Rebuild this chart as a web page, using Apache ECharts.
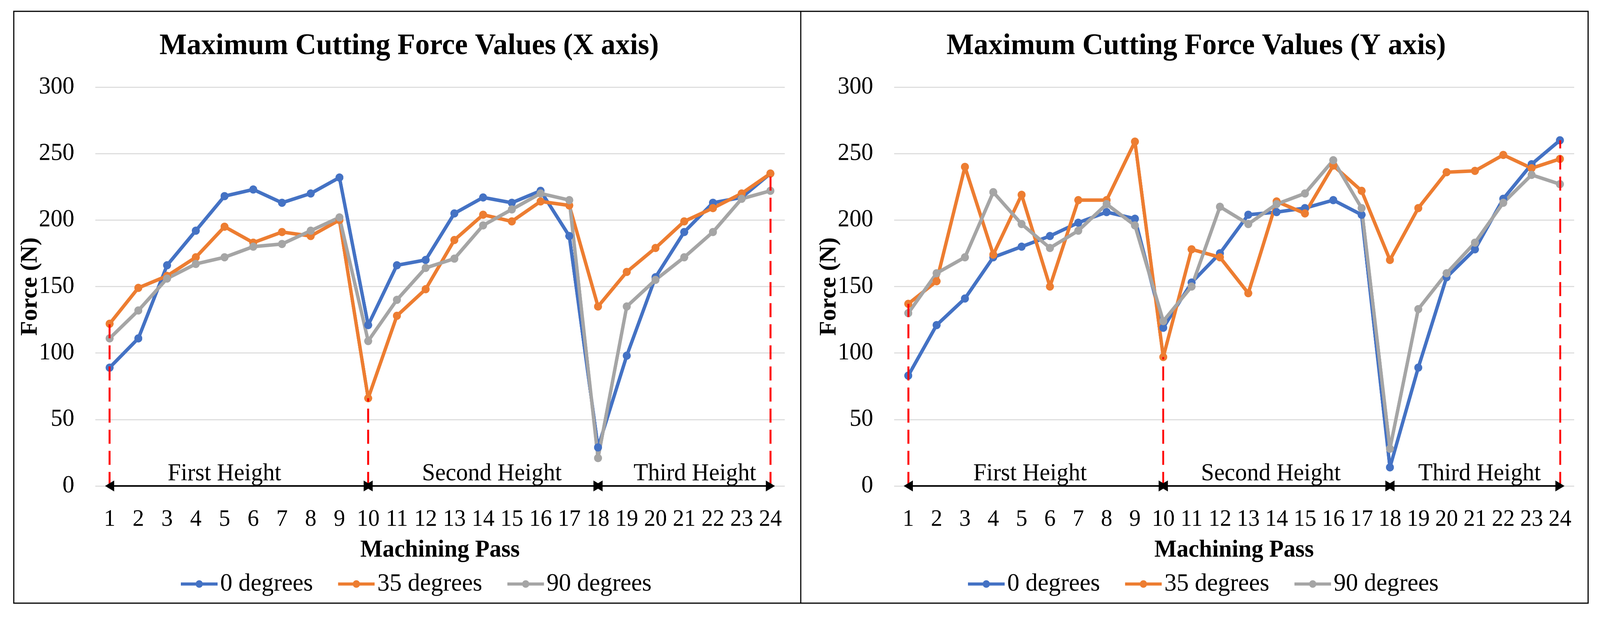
<!DOCTYPE html>
<html>
<head>
<meta charset="utf-8">
<script src="https://cdn.jsdelivr.net/npm/echarts@6/dist/echarts.min.js"></script>
<style>
html,body{margin:0;padding:0;background:#fff;overflow:hidden;}
#chart{width:4200px;height:1582px;transform-origin:0 0;}
</style>
</head>
<body>
<div id="chart"></div>
<script>
// ---------- data ----------
const passes = ['1','2','3','4','5','6','7','8','9','10','11','12','13','14','15','16','17','18','19','20','21','22','23','24'];
const seriesNames = ['0 degrees', '35 degrees', '90 degrees'];

// Maximum cutting force, X axis (N)
const fx0  = [89, 111, 166, 192, 218, 223, 213, 220, 232, 121, 166, 170, 205, 217, 213, 222, 188, 29, 98, 157, 191, 213, 217, 235];
const fx35 = [122, 149, 158, 172, 195, 183, 191, 188, 200, 66, 128, 148, 185, 204, 199, 214, 211, 135, 161, 179, 199, 209, 220, 235];
const fx90 = [111, 132, 156, 167, 172, 180, 182, 192, 202, 109, 140, 164, 171, 196, 208, 220, 215, 21, 135, 155, 172, 191, 216, 222];

// Maximum cutting force, Y axis (N)
const fy0  = [83, 121, 141, 172, 180, 188, 198, 206, 201, 119, 153, 175, 204, 206, 209, 215, 204, 14, 89, 157, 178, 216, 242, 260];
const fy35 = [137, 154, 240, 174, 219, 150, 215, 215, 259, 97, 178, 172, 145, 214, 205, 241, 222, 170, 209, 236, 237, 249, 239, 246];
const fy90 = [130, 160, 172, 221, 197, 179, 192, 212, 196, 124, 150, 210, 197, 212, 220, 245, 209, 28, 133, 160, 183, 213, 234, 227];

// height sections and divider lines
const dividerPasses = ['1', '10', '24'];
const dividerTopsX = [122, 66, 235];
const dividerTopsY = [137, 97, 260];
const sectionStarts = ['1', '10', '18'];
const sectionEnds = ['10', '18', '24'];
const sectionNames = ['First Height', 'Second Height', 'Third Height'];

const titles = ['Maximum Cutting Force Values (X axis)', 'Maximum Cutting Force Values (Y axis)'];
const yTicks = { min: 0, max: 300, interval: 50 };

// ---------- styles / layout ----------
const FONT = "'Liberation Serif', 'Times New Roman', serif";
const colors = ['#4472C4', '#ED7D31', '#A5A5A5'];
// horizontal nudges (px) of the section captions in each panel
const captionShift = [[-38, 23, 28], [-15, -15, 12]];

// the design is laid out on a 4200 x 1582 page; fit it into the actual window
const el = document.getElementById('chart');
const sx = window.innerWidth / 4200, sy = window.innerHeight / 1582;
el.style.transform = 'scale(' + sx + ',' + sy + ')';
const chart = echarts.init(el, null, { renderer: 'canvas', devicePixelRatio: 2 });

function lineSeries(name, data, idx, color) {
  return {
    name: name, type: 'line', xAxisIndex: idx, yAxisIndex: idx, data: data,
    symbol: 'circle', symbolSize: 21, showSymbol: true,
    lineStyle: { color: color, width: 9 },
    itemStyle: { color: color },
    emphasis: { disabled: true }, animation: false
  };
}

function dividerSeries(idx, tops) {
  const lines = [];
  dividerPasses.forEach((p, i) => {
    lines.push([
      { coord: [p, 0], symbol: 'none', lineStyle: { color: '#FF0000', width: 5, type: [36, 18] }, label: { show: false } },
      { coord: [p, tops[i]], symbol: 'none' }
    ]);
  });
  sectionStarts.forEach((s, i) => {
    const d = captionShift[idx][i];
    lines.push([
      { coord: [s, 0], symbol: 'triangle', symbolSize: [28, 24],
        lineStyle: { color: '#000', width: 4, type: 'solid' },
        label: { show: true, position: 'insideMiddleTop', formatter: sectionNames[i], color: '#000',
                 fontFamily: FONT, fontSize: 62, distance: 0,
                 padding: [0, d < 0 ? -2 * d : 0, 0, d > 0 ? 2 * d : 0] } },
      { coord: [sectionEnds[i], 0], symbol: 'triangle', symbolSize: [28, 24] }
    ]);
  });
  return {
    name: 'dividers' + idx, type: 'line', xAxisIndex: idx, yAxisIndex: idx, data: [],
    silent: true, animation: false,
    markLine: { silent: true, animation: false, data: lines, emphasis: { disabled: true } }
  };
}

function xAxis(idx) {
  return {
    type: 'category', gridIndex: idx, data: passes,
    axisLine: { show: false }, axisTick: { show: false },
    axisLabel: { interval: 0, color: '#000', fontFamily: FONT, fontSize: 60, margin: 56 },
    name: 'Machining Pass', nameLocation: 'middle', nameGap: 134, nameMoveOverlap: false,
    nameTextStyle: { color: '#000', fontFamily: FONT, fontSize: 62, fontWeight: 'bold' }
  };
}
function yAxis(idx) {
  return {
    type: 'value', gridIndex: idx, min: yTicks.min, max: yTicks.max, interval: yTicks.interval,
    axisLine: { show: false }, axisTick: { show: false },
    splitLine: { lineStyle: { color: '#D9D9D9', width: 2.5 } },
    axisLabel: { color: '#000', fontFamily: FONT, fontSize: 62, margin: 55 },
    name: 'Force (N)', nameLocation: 'middle', nameGap: 139, nameMoveOverlap: false,
    nameTextStyle: { color: '#000', fontFamily: FONT, fontSize: 62, fontWeight: 'bold' }
  };
}

function legend(left) {
  return { data: seriesNames, left: left, top: 1458, itemWidth: 96, itemHeight: 24, itemGap: 62,
    lineStyle: { width: 8 },
    textStyle: { color: '#000', fontFamily: FONT, fontSize: 64, padding: [0, 0, 0, 2] } };
}

const option = {
  backgroundColor: '#fff',
  animation: false,
  textStyle: { fontFamily: FONT },
  title: [
    { text: titles[0], left: 1069, top: 76, textAlign: 'center',
      textStyle: { color: '#000', fontFamily: FONT, fontSize: 76, fontWeight: 'bold' } },
    { text: titles[1], left: 3135, top: 76, textAlign: 'center',
      textStyle: { color: '#000', fontFamily: FONT, fontSize: 76, fontWeight: 'bold' } }
  ],
  legend: [legend(466), legend(2532)],
  grid: [
    { left: 250, right: 2140, top: 223, bottom: 338 },
    { left: 2347, right: 68, top: 223, bottom: 338 }
  ],
  xAxis: [xAxis(0), xAxis(1)],
  yAxis: [yAxis(0), yAxis(1)],
  series: [
    dividerSeries(0, dividerTopsX),
    lineSeries(seriesNames[0], fx0, 0, colors[0]),
    lineSeries(seriesNames[1], fx35, 0, colors[1]),
    lineSeries(seriesNames[2], fx90, 0, colors[2]),
    dividerSeries(1, dividerTopsY),
    lineSeries(seriesNames[0], fy0, 1, colors[0]),
    lineSeries(seriesNames[1], fy35, 1, colors[1]),
    lineSeries(seriesNames[2], fy90, 1, colors[2])
  ],
  graphic: [
    { type: 'rect', shape: { x: 36, y: 29, width: 2066, height: 1515 },
      style: { fill: 'none', stroke: '#000', lineWidth: 3 }, silent: true, z: 100 },
    { type: 'rect', shape: { x: 2102, y: 29, width: 2067, height: 1515 },
      style: { fill: 'none', stroke: '#000', lineWidth: 3 }, silent: true, z: 100 }
  ]
};
chart.setOption(option);
</script>
</body>
</html>
